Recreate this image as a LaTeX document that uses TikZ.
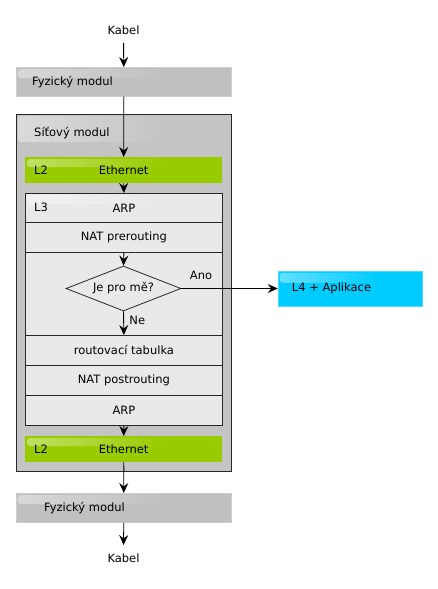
\documentclass[tikz,border=0pt]{standalone}
\usepackage{fontspec}
\setmainfont{DejaVu Sans}
\usetikzlibrary{arrows.meta,shapes.geometric,fadings,calc}
\definecolor{physgray}{RGB}{192,192,192}
\definecolor{modgray}{RGB}{196,196,196}
\definecolor{rowgray}{RGB}{232,234,234}
\definecolor{ethgreen}{RGB}{153,204,0}
\definecolor{appcyan}{RGB}{0,204,255}
\definecolor{darkline}{RGB}{40,40,40}
\tikzfading[name=glossfade, left color=transparent!35, right color=transparent!100]
\newcommand\glossy[2]{\fill[white, path fading=glossfade, opacity=0.6, rounded corners=3pt]
  ([shift={(2,2)}]#1.north west) rectangle ($(#1.north west)!0.7!(#1.north east)+(0,#2)$);}
\begin{document}
\begin{tikzpicture}[x=1pt,y=-1pt,
  font=\fontsize{11.5}{13.5}\selectfont,
  arr/.style={-{Stealth[length=10pt,width=9pt,inset=3.5pt]}, line width=0.9pt, black},
  physbox/.style={rectangle, fill=physgray, draw=physgray!80!white, line width=0.6pt, minimum width=215pt, minimum height=29pt, inner sep=0pt},
  modbox/.style={rectangle, fill=modgray, draw=darkline, line width=0.9pt, minimum width=215pt, minimum height=357pt, inner sep=0pt},
  ethbox/.style={rectangle, fill=ethgreen, minimum width=197pt, minimum height=26pt, inner sep=0pt},
  rowbox/.style={rectangle, fill=rowgray, draw=darkline, line width=0.8pt, minimum width=197pt, inner sep=0pt},
  appbox/.style={rectangle, fill=appcyan, draw=appcyan!70!white, line width=0.5pt, minimum width=144pt, minimum height=35pt, inner sep=0pt},
  decision/.style={diamond, draw=darkline, fill=rowgray, line width=0.8pt, aspect=2.5, minimum width=115pt, minimum height=45pt, inner sep=0pt},
  txt/.style={inner sep=0pt, anchor=west}
]
\useasboundingbox (0,0) rectangle (437,589);

% top cable
\node (kabel1) at (123.5,30) {Kabel};
\node[physbox, anchor=north west] (fyz1) at (16,67) {};
\glossy{fyz1}{11}
\node[txt] (fyz1t) at ([xshift=16pt]fyz1.west) {Fyzický modul};

% network module
\node[modbox, anchor=north west] (mod) at (16,114) {};
\glossy{mod}{28}
\node[txt] (modt) at (34,133) {Síťový modul};

\node[ethbox, anchor=north west] (eth1) at (25,157) {};
\glossy{eth1}{10}
\node[txt] (eth1l) at (34,170) {L2};
\node (eth1t) at (eth1.center) {Ethernet};

\node[rowbox, minimum height=29pt, anchor=north west] (arp1) at (25,193) {};
\glossy{arp1}{11}
\node[txt] (arp1l) at (34,207.5) {L3};
\node (arp1t) at (arp1.center) {ARP};
\node[rowbox, minimum height=30pt, anchor=north west] (natpre) at (25,222) {NAT prerouting};
\node[rowbox, minimum height=83pt, anchor=north west] (mid) at (25,252) {};
\node[rowbox, minimum height=30pt, anchor=north west] (rout) at (25,335) {routovací tabulka};
\node[rowbox, minimum height=30pt, anchor=north west] (natpost) at (25,365) {NAT postrouting};
\node[rowbox, minimum height=30pt, anchor=north west] (arp2) at (25,395) {ARP};

\node[decision] (dec) at (123.5,288.5) {Je pro mě?};

\node[ethbox, anchor=north west] (eth2) at (25,436) {};
\glossy{eth2}{10}
\node[txt] (eth2l) at (34,449) {L2};
\node (eth2t) at (eth2.center) {Ethernet};

% application
\node[appbox] (app) at (350,288.5) {};
\glossy{app}{12}
\node[txt] (appt) at ([xshift=14pt]app.west) {L4 + Aplikace};

% bottom
\node[physbox, anchor=north west] (fyz2) at (16,493) {};
\glossy{fyz2}{11}
\node[txt] (fyz2t) at ([xshift=28pt]fyz2.west) {Fyzický modul};
\node (kabel2) at (123.5,558) {Kabel};

% connectors
\draw[arr, shorten <=5pt] (kabel1.south) -- (fyz1.north);
\draw[arr] (fyz1.south) -- (eth1.north);
\draw[arr] (eth1.south) -- (arp1.north);
\draw[arr] (mid.north) -- (dec.north);
\draw[arr] (dec.south) -- node[right, pos=0.4, xshift=2pt] (ne) {Ne} (rout.north);
\draw[arr] (dec.east) -- (app.west);
\node (ano) at (201,275) {Ano};
\draw[arr] (arp2.south) -- (eth2.north);
\draw[arr] (eth2.south |- mod.south) -- (fyz2.north);
\draw[line width=0.9pt] (eth2.south) -- (mod.south);
\draw[arr, shorten >=5pt] (fyz2.south) -- (kabel2.north);
\end{tikzpicture}
\end{document}
